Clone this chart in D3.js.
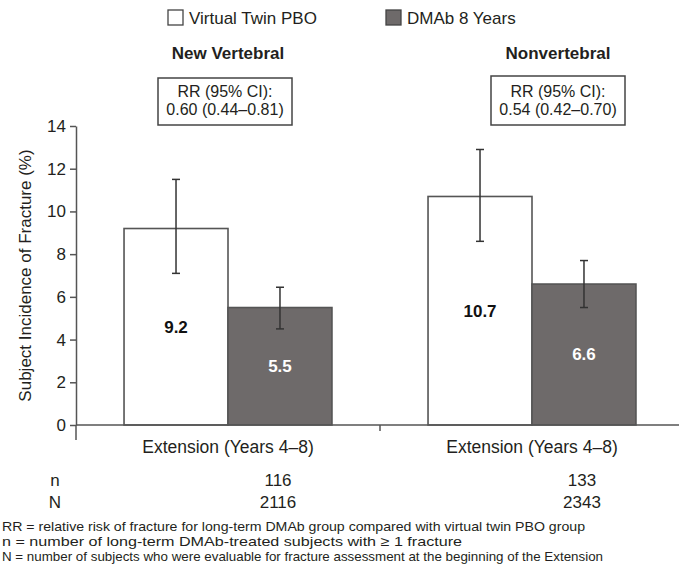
<!DOCTYPE html>
<html>
<head>
<meta charset="utf-8">
<script src="https://cdn.jsdelivr.net/npm/d3@7"></script>
<style>
  body { margin: 0; background: #fff; }
  svg { display: block; }
  text { font-family: "Liberation Sans", Arial, sans-serif; fill: #231f20; }
</style>
</head>
<body>
<div id="chart"></div>
<script>
// data
var groups = ["New Vertebral", "Nonvertebral"];
var series = ["Virtual Twin PBO", "DMAb 8 Years"];
var pboValues = [9.2, 10.7];
var dmabValues = [5.5, 6.6];
var pboLower = [7.1, 8.6];
var pboUpper = [11.5, 12.9];
var dmabLower = [4.5, 5.5];
var dmabUpper = [6.45, 7.7];
var rrLines = ["0.60 (0.44\u20130.81)", "0.54 (0.42\u20130.70)"];
var periodLabels = ["Extension (Years 4\u20138)", "Extension (Years 4\u20138)"];
var nValues = [116, 133];
var bigNValues = [2116, 2343];
var yTicks = [0, 2, 4, 6, 8, 10, 12, 14];
var footnotes = [
  "RR = relative risk of fracture for long-term DMAb group compared with virtual twin PBO group",
  "n = number of long-term DMAb-treated subjects with \u2265 1 fracture",
  "N = number of subjects who were evaluable for fracture assessment at the beginning of the Extension"
];
var footnoteWidths = [583, 460, 601];

var width = 679, height = 571;
var fills = ["#ffffff", "#6e6a6a"];
var strokeCol = "#555";

var svg = d3.select("#chart").append("svg")
  .attr("width", width)
  .attr("height", height);

var y = d3.scaleLinear().domain([0, 14]).range([425, 126]);

var x0 = d3.scaleBand().domain(groups).range([76, 684]).padding(0);
var bw = x0.bandwidth();
var x1 = d3.scaleBand().domain(series)
  .range([bw / 2 - bw * 0.342, bw / 2 + bw * 0.342]).padding(0);

// rows: one per group+series
var rows = [];
groups.forEach(function(g, i) {
  rows.push({ g: g, s: series[0], v: pboValues[i], lo: pboLower[i], hi: pboUpper[i], k: 0 });
  rows.push({ g: g, s: series[1], v: dmabValues[i], lo: dmabLower[i], hi: dmabUpper[i], k: 1 });
});

// bars
svg.append("g").attr("class", "bars")
  .selectAll("rect")
  .data(rows)
  .enter().append("rect")
  .attr("x", d => x0(d.g) + x1(d.s))
  .attr("y", d => y(d.v))
  .attr("width", x1.bandwidth())
  .attr("height", d => y(0) - y(d.v))
  .style("fill", d => fills[d.k])
  .style("stroke", strokeCol)
  .style("stroke-width", 1.6);

// error bars
var eb = svg.append("g").attr("class", "errorbars")
  .selectAll("g")
  .data(rows)
  .enter().append("g")
  .attr("transform", d => "translate(" + (x0(d.g) + x1(d.s) + x1.bandwidth() / 2) + ",0)");

eb.append("line")
  .attr("x1", 0).attr("x2", 0)
  .attr("y1", d => y(d.lo)).attr("y2", d => y(d.hi))
  .style("stroke", "#333").style("stroke-width", 1.5);
eb.append("line")
  .attr("x1", -4).attr("x2", 4)
  .attr("y1", d => y(d.hi)).attr("y2", d => y(d.hi))
  .style("stroke", "#333").style("stroke-width", 1.5);
eb.append("line")
  .attr("x1", -4).attr("x2", 4)
  .attr("y1", d => y(d.lo)).attr("y2", d => y(d.lo))
  .style("stroke", "#333").style("stroke-width", 1.5);

// value labels in the middle of each bar
svg.append("g").attr("class", "values")
  .selectAll("text")
  .data(rows)
  .enter().append("text")
  .attr("x", d => x0(d.g) + x1(d.s) + x1.bandwidth() / 2)
  .attr("y", d => (y(d.v) + y(0)) / 2)
  .attr("dy", "0.35em")
  .style("text-anchor", "middle")
  .style("font-weight", "bold")
  .style("font-size", "17px")
  .style("fill", d => d.k === 1 ? "#fff" : "#111")
  .text(d => d.v.toFixed(1));

// y axis
var yAxis = svg.append("g")
  .attr("transform", "translate(76,0)")
  .call(d3.axisLeft(y).tickValues(yTicks).tickSize(6).tickPadding(4).tickSizeOuter(0));
yAxis.selectAll("path, line").style("stroke", strokeCol).style("stroke-width", 1.5);
yAxis.selectAll("text").style("font-size", "17px").style("fill", "#231f20")
  .style("font-family", "'Liberation Sans', Arial, sans-serif");

svg.append("text")
  .attr("transform", "translate(25," + ((y(0) + y(14)) / 2) + ") rotate(-90)")
  .attr("dy", "0.35em")
  .style("text-anchor", "middle")
  .style("font-size", "17px")
  .text("Subject Incidence of Fracture (%)");

// x axis line and group boundary ticks
svg.append("line")
  .attr("x1", 76).attr("x2", width)
  .attr("y1", y(0)).attr("y2", y(0))
  .style("stroke", strokeCol).style("stroke-width", 1.5);
svg.append("g").selectAll("line")
  .data(groups)
  .enter().append("line")
  .attr("x1", d => x0(d)).attr("x2", d => x0(d))
  .attr("y1", y(0)).attr("y2", (d, i) => y(0) + (i === 0 ? 15 : 6))
  .style("stroke", strokeCol).style("stroke-width", 1.5);

svg.append("g").selectAll("text")
  .data(groups)
  .enter().append("text")
  .attr("x", d => x0(d) + bw / 2)
  .attr("y", 453)
  .style("text-anchor", "middle")
  .style("font-size", "17.5px")
  .text((d, i) => periodLabels[i]);

// legend
var legendX = [168, 386];
var leg = svg.append("g").selectAll("g")
  .data(series)
  .enter().append("g")
  .attr("transform", (d, i) => "translate(" + legendX[i] + ",10)");
leg.append("rect")
  .attr("width", 15).attr("height", 15)
  .style("fill", (d, i) => fills[i])
  .style("stroke", "#444").style("stroke-width", 1.3);
leg.append("text")
  .attr("x", 21).attr("y", 13.5)
  .style("font-size", "17px")
  .text(d => d);

// group titles and RR boxes
var titleShift = [0, 26];
var hdr = svg.append("g").selectAll("g")
  .data(groups)
  .enter().append("g")
  .attr("transform", (d, i) => "translate(" + (x0(d) + bw / 2 + titleShift[i]) + ",0)");
hdr.append("text")
  .attr("y", 59)
  .style("text-anchor", "middle")
  .style("font-weight", "bold")
  .style("font-size", "17px")
  .text(d => d);
hdr.append("rect")
  .attr("x", (d, i) => i === 0 ? -70 : -67)
  .attr("y", (d, i) => i === 0 ? 78 : 76)
  .attr("width", 134)
  .attr("height", (d, i) => i === 0 ? 47 : 49)
  .style("fill", "#fff")
  .style("stroke", "#444").style("stroke-width", 1.5);
hdr.append("text")
  .attr("x", (d, i) => i === 0 ? -3 : 0)
  .attr("y", 97)
  .style("text-anchor", "middle")
  .style("font-size", "16px")
  .text("RR (95% CI):");
hdr.append("text")
  .attr("x", (d, i) => i === 0 ? -3 : 0)
  .attr("y", 115)
  .style("text-anchor", "middle")
  .style("font-size", "16px")
  .text((d, i) => rrLines[i]);

// n / N rows
var countShift = 50;
svg.append("text")
  .attr("x", 55).attr("y", 486)
  .style("text-anchor", "middle").style("font-size", "17px").text("n");
svg.append("text")
  .attr("x", 55).attr("y", 508)
  .style("text-anchor", "middle").style("font-size", "17px").text("N");
svg.append("g").selectAll("text")
  .data(groups)
  .enter().append("text")
  .attr("x", d => x0(d) + bw / 2 + countShift)
  .attr("y", 486)
  .style("text-anchor", "middle").style("font-size", "17px")
  .text((d, i) => nValues[i]);
svg.append("g").selectAll("text")
  .data(groups)
  .enter().append("text")
  .attr("x", d => x0(d) + bw / 2 + countShift)
  .attr("y", 508)
  .style("text-anchor", "middle").style("font-size", "17px")
  .text((d, i) => bigNValues[i]);

// footnotes
svg.append("g").selectAll("text")
  .data(footnotes)
  .enter().append("text")
  .attr("x", 2)
  .attr("y", (d, i) => 531 + i * 15)
  .attr("textLength", (d, i) => footnoteWidths[i])
  .attr("lengthAdjust", "spacingAndGlyphs")
  .style("font-size", "13.5px")
  .text(d => d);
</script>
</body>
</html>
